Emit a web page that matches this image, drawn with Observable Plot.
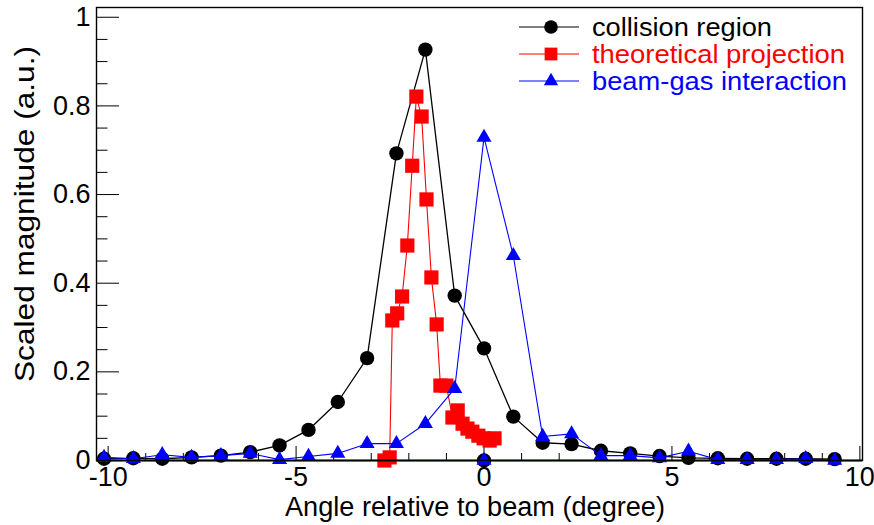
<!DOCTYPE html>
<html><head><meta charset="utf-8">
<script src="https://cdn.jsdelivr.net/npm/d3@7"></script>
<script src="https://cdn.jsdelivr.net/npm/@observablehq/plot@0.6"></script>
<style>
body{margin:0;background:#fff;}
#chart svg{display:block;}
</style></head><body><div id="chart"></div>
<script>
// ---- data ----
const angleGrid = [-10.11, -9.33, -8.56, -7.78, -7.00, -6.22, -5.44, -4.67, -3.89, -3.11, -2.33, -1.56, -0.78, 0, 0.78, 1.56, 2.33, 3.11, 3.89, 4.67, 5.44, 6.22, 7.00, 7.78, 8.56, 9.33];
const collision = [0.004, 0.005, 0.004, 0.007, 0.011, 0.019, 0.034, 0.069, 0.132, 0.231, 0.693, 0.927, 0.372, 0.253, 0.099, 0.040, 0.037, 0.022, 0.016, 0.010, 0.006, 0.005, 0.004, 0.004, 0.004, 0.003];
const beamGas = [0.007, 0.004, 0.013, 0.007, 0.011, 0.016, 0.002, 0.009, 0.016, 0.038, 0.038, 0.083, 0.162, 0.729, 0.462, 0.054, 0.060, 0.011, 0.011, 0.006, 0.021, 0.002, 0.002, 0.002, 0.004, 0.000];
const theoryAngle = [-2.65, -2.51, -2.44, -2.31, -2.18, -2.04, -1.91, -1.80, -1.66, -1.53, -1.40, -1.26, -1.16, -1.00, -0.84, -0.70, -0.57, -0.44, -0.31, -0.15, -0.01, 0.15, 0.28];
const theory = [0.000, 0.007, 0.316, 0.332, 0.370, 0.485, 0.665, 0.821, 0.776, 0.589, 0.413, 0.307, 0.169, 0.169, 0.097, 0.113, 0.083, 0.072, 0.065, 0.056, 0.050, 0.045, 0.050];
// stray points at the origin
const originX = [0];
const originY = [0];

const xMajor = [-10, -5, 0, 5, 10];
const xLabels = ["-10", "-5", "0", "5", "10"];
const xMinor = [-9, -8, -7, -6, -4, -3, -2, -1, 1, 2, 3, 4, 6, 7, 8, 9];
const yMajor = [0, 0.2, 0.4, 0.6, 0.8, 1.0];
const yLabels = ["0", "0.2", "0.4", "0.6", "0.8", "1"];
const yMinor = [0.05, 0.1, 0.15, 0.25, 0.3, 0.35, 0.45, 0.5, 0.55, 0.65, 0.7, 0.75, 0.85, 0.9, 0.95];

const seriesNames = ["collision region", "theoretical projection", "beam-gas interaction"];
const seriesColors = ["#000000", "#ff0000", "#0000ff"];
const xTitle = "Angle relative to beam (degree)";
const yTitle = "Scaled magnitude (a.u.)";

// ---- build ----
const colData = angleGrid.map((x, i) => ({x, y: collision[i]}));
const gasData = angleGrid.map((x, i) => ({x, y: beamGas[i]}));
const thData = theoryAngle.map((x, i) => ({x, y: theory[i]}));
const orig = originX.map((x, i) => ({x, y: originY[i]}));

const W = 874, H = 525, mL = 96, mR = 12, mT = 7, mB = 65;
const frameW = W - mL - mR, frameH = H - mT - mB;
const FONT = "'Liberation Sans', Arial, Helvetica, sans-serif";
const FS = 27;
const LEG_FS = 25;

const rCircle = 7.2, rSquare = 8.0, rTri = 5.6;

const plot = Plot.plot({
  width: W, height: H,
  marginLeft: mL, marginRight: mR, marginTop: mT, marginBottom: mB,
  style: {fontFamily: FONT, fontSize: FS + "px", background: "white", overflow: "visible"},
  x: {domain: [-10.31, 10.07], axis: null},
  y: {domain: [0, 1.022], axis: null},
  marks: [
    // ticks (inward, ROOT style)
    Plot.tickX(xMinor, {x: d => d, insetTop: frameH - 7, stroke: "black"}),
    Plot.tickX(xMajor, {x: d => d, insetTop: frameH - 14, stroke: "black"}),
    Plot.tickY(yMinor, {y: d => d, insetRight: frameW - 11.5, stroke: "black"}),
    Plot.tickY(yMajor, {y: d => d, insetRight: frameW - 23, stroke: "black"}),
    // tick labels
    Plot.text(xMajor, {x: d => d, frameAnchor: "bottom", lineAnchor: "top", dy: 6, text: (d, i) => xLabels[i], fontSize: FS, fill: "black"}),
    Plot.text(yMajor, {y: d => d, frameAnchor: "left", textAnchor: "end", dx: -6, text: (d, i) => yLabels[i], fontSize: FS, fill: "black"}),
    // collision region
    Plot.line(colData, {x: "x", y: "y", stroke: seriesColors[0], strokeWidth: 1.3}),
    Plot.dot(colData, {x: "x", y: "y", r: rCircle, fill: seriesColors[0], symbol: "circle"}),
    Plot.dot(orig, {x: "x", y: "y", r: rCircle, fill: seriesColors[0], symbol: "circle"}),
    // theoretical projection
    Plot.line(thData, {x: "x", y: "y", stroke: seriesColors[1], strokeWidth: 1.1}),
    Plot.dot(thData, {x: "x", y: "y", r: rSquare, fill: seriesColors[1], symbol: "square"}),
    // beam-gas interaction
    Plot.ruleY([0], {stroke: "#0000cc", strokeWidth: 2.2}),
    Plot.line(gasData, {x: "x", y: "y", stroke: seriesColors[2], strokeWidth: 1.1}),
    Plot.dot(gasData, {x: "x", y: "y", r: rTri, fill: seriesColors[2], symbol: "triangle"}),
    Plot.dot(orig, {x: "x", y: "y", r: rTri, fill: seriesColors[2], symbol: "triangle"}),
    Plot.frame({stroke: "black", strokeWidth: 1.4})
  ]
});

const svg = d3.select(plot);
// axis titles
svg.append("text").attr("x", 475).attr("y", 516)
  .attr("font-family", FONT).attr("font-size", FS).attr("fill", "black")
  .attr("text-anchor", "middle")
  .attr("textLength", 380).attr("lengthAdjust", "spacingAndGlyphs")
  .text(xTitle);
svg.append("text").attr("transform", "translate(34,46) rotate(-90)")
  .attr("font-family", FONT).attr("font-size", FS).attr("fill", "black")
  .attr("text-anchor", "end")
  .attr("textLength", 336).attr("lengthAdjust", "spacingAndGlyphs")
  .text(yTitle);

// legend (inside the frame, top right, no border)
const leg = svg.append("g").attr("font-family", FONT).attr("font-size", LEG_FS);
const symbols = [d3.symbolCircle, d3.symbolSquare, d3.symbolTriangle];
const radii = [rCircle * 0.95, rSquare * 0.9, rTri * 0.95];
const rowY = [27, 54, 81];
const legLen = [180, 253, 255];
seriesNames.forEach((name, i) => {
  const y = rowY[i];
  leg.append("line").attr("x1", 519).attr("x2", 579).attr("y1", y).attr("y2", y)
    .attr("stroke", seriesColors[i]).attr("stroke-width", 1.2);
  leg.append("path").attr("transform", `translate(551,${y})`)
    .attr("d", d3.symbol(symbols[i], Math.PI * radii[i] * radii[i])())
    .attr("fill", seriesColors[i]);
  leg.append("text").attr("x", 592).attr("y", y).attr("dy", "0.35em")
    .attr("text-anchor", "start")
    .attr("textLength", legLen[i]).attr("lengthAdjust", "spacingAndGlyphs")
    .attr("fill", seriesColors[i]).text(name);
});

document.getElementById("chart").appendChild(plot);
</script></body></html>
